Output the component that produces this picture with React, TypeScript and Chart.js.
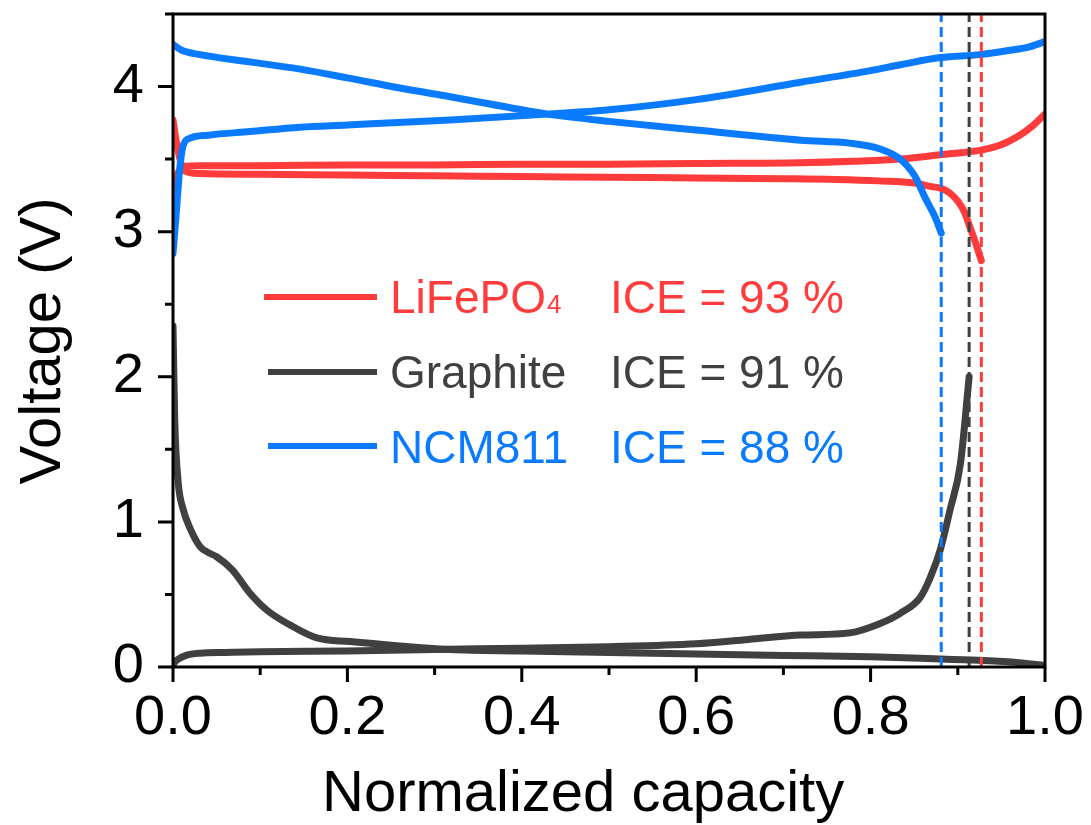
import React, { useEffect, useRef } from "react";
import { Chart, registerables } from "chart.js";

Chart.register(...registerables);

const FONT = "'Liberation Sans', Arial, Helvetica, sans-serif";
const RED = "#FF3B3B";
const GRAY = "#404040";
const BLUE = "#0A7BFF";

// LiFePO4 charge / discharge
const lfpChargeX = [0, 0.004, 0.008, 0.013, 0.03, 0.1, 0.2, 0.3, 0.4, 0.5, 0.6, 0.72, 0.78, 0.834, 0.88, 0.925, 0.948, 0.971, 0.986, 1.0];
const lfpChargeY = [3.3, 3.38, 3.43, 3.45, 3.455, 3.455, 3.46, 3.46, 3.465, 3.465, 3.47, 3.475, 3.485, 3.5, 3.53, 3.56, 3.595, 3.665, 3.73, 3.81];
const lfpDischargeX = [0, 0.003, 0.008, 0.013, 0.03, 0.1, 0.2, 0.3, 0.4, 0.5, 0.6, 0.7, 0.76, 0.81, 0.85, 0.87, 0.88, 0.89, 0.9, 0.908, 0.914, 0.92, 0.927];
const lfpDischargeY = [3.77, 3.65, 3.5, 3.42, 3.4, 3.395, 3.39, 3.385, 3.38, 3.375, 3.37, 3.365, 3.36, 3.35, 3.335, 3.31, 3.3, 3.27, 3.21, 3.13, 3.03, 2.93, 2.8];

// Graphite lithiation / delithiation
const grLithX = [0, 0.002, 0.006, 0.011, 0.02, 0.031, 0.04, 0.05, 0.068, 0.088, 0.108, 0.134, 0.165, 0.203, 0.26, 0.318, 0.4, 0.5, 0.6, 0.7, 0.8, 0.88, 0.93, 0.97, 1.0];
const grLithY = [2.35, 1.7, 1.27, 1.1, 0.95, 0.83, 0.79, 0.76, 0.67, 0.51, 0.39, 0.29, 0.2, 0.175, 0.145, 0.12, 0.11, 0.1, 0.09, 0.08, 0.07, 0.055, 0.045, 0.03, 0.01];
const grDelithX = [0, 0.005, 0.015, 0.031, 0.06, 0.1, 0.2, 0.3, 0.4, 0.5, 0.6, 0.66, 0.72, 0.776, 0.811, 0.834, 0.857, 0.868, 0.88, 0.891, 0.903, 0.913];
const grDelithY = [0.02, 0.05, 0.08, 0.095, 0.1, 0.105, 0.11, 0.12, 0.13, 0.14, 0.16, 0.19, 0.22, 0.235, 0.3, 0.37, 0.48, 0.61, 0.81, 1.08, 1.4, 2.0];

// NCM811 charge / discharge
const ncmChargeX = [0, 0.004, 0.008, 0.012, 0.02, 0.04, 0.088, 0.146, 0.2, 0.318, 0.43, 0.5, 0.6, 0.72, 0.8, 0.834, 0.88, 0.925, 0.96, 0.98, 1.0];
const ncmChargeY = [2.85, 3.15, 3.45, 3.6, 3.645, 3.665, 3.69, 3.72, 3.735, 3.77, 3.81, 3.84, 3.91, 4.03, 4.11, 4.15, 4.2, 4.22, 4.25, 4.27, 4.31];
const ncmDischargeX = [0, 0.01, 0.031, 0.088, 0.146, 0.2, 0.26, 0.318, 0.43, 0.5, 0.6, 0.72, 0.776, 0.811, 0.834, 0.851, 0.862, 0.874, 0.881];
const ncmDischargeY = [4.29, 4.25, 4.22, 4.17, 4.12, 4.06, 3.99, 3.93, 3.81, 3.76, 3.7, 3.63, 3.61, 3.57, 3.5, 3.38, 3.24, 3.1, 2.99];

// ICE cut-off markers (normalized capacity)
const iceNames = ["LiFePO4", "Graphite", "NCM811"];
const iceValues = [93, 91, 88];
const iceCutoffX = [0.927, 0.913, 0.881];
const iceColors = [RED, GRAY, BLUE];

// axis ticks
const xMajorTicks = [0, 0.2, 0.4, 0.6, 0.8, 1.0];
const xMinorTicks = [0.1, 0.3, 0.5, 0.7, 0.9];
const yMajorTicks = [0, 1, 2, 3, 4];
const yMinorTicks = [0.5, 1.5, 2.5, 3.5, 4.5];

const pts = (xs: number[], ys: number[]) => xs.map((x, i) => ({ x, y: ys[i] }));

const curve = (data: { x: number; y: number }[], color: string, order: number) => ({
  data,
  borderColor: color,
  backgroundColor: color,
  borderWidth: 7,
  pointRadius: 0,
  fill: false,
  cubicInterpolationMode: "monotone" as const,
  borderCapStyle: "round" as const,
  borderJoinStyle: "round" as const,
  order,
});

const noPad = (s: any) => {
  s.paddingTop = 0;
  s.paddingBottom = 0;
  s.paddingLeft = 0;
  s.paddingRight = 0;
};

const framePlugin = {
  id: "frameAndText",
  afterDraw(chart: any) {
    const { ctx, chartArea, scales } = chart;
    const { left, right, top, bottom } = chartArea;
    const xs = scales.x;
    const ys = scales.y;
    ctx.save();
    ctx.strokeStyle = "#000";
    ctx.lineWidth = 3;
    ctx.lineCap = "butt";
    ctx.strokeRect(left, top, right - left, bottom - top);
    ctx.beginPath();
    xMajorTicks.forEach((v) => {
      const p = xs.getPixelForValue(v);
      ctx.moveTo(p, bottom);
      ctx.lineTo(p, bottom + 15);
    });
    xMinorTicks.forEach((v) => {
      const p = xs.getPixelForValue(v);
      ctx.moveTo(p, bottom);
      ctx.lineTo(p, bottom + 8);
    });
    yMajorTicks.forEach((v) => {
      const p = ys.getPixelForValue(v);
      ctx.moveTo(left, p);
      ctx.lineTo(left - 15, p);
    });
    yMinorTicks.forEach((v) => {
      const p = ys.getPixelForValue(v);
      ctx.moveTo(left, p);
      ctx.lineTo(left - 8, p);
    });
    ctx.stroke();

    // axis titles
    ctx.fillStyle = "#000";
    ctx.font = `58px ${FONT}`;
    ctx.textAlign = "left";
    ctx.textBaseline = "alphabetic";
    ctx.fillText("Normalized capacity", 322, 811);
    ctx.save();
    ctx.translate(60, 341);
    ctx.rotate(-Math.PI / 2);
    ctx.textAlign = "center";
    ctx.fillText("Voltage (V)", 0, 0);
    ctx.restore();

    // legend
    const baselines = [313, 388, 463];
    const lineYs = [297, 372, 446];
    const lineX0 = [264, 268, 268];
    baselines.forEach((b, i) => {
      ctx.strokeStyle = iceColors[i];
      ctx.lineWidth = 6;
      ctx.beginPath();
      ctx.moveTo(lineX0[i], lineYs[i]);
      ctx.lineTo(377, lineYs[i]);
      ctx.stroke();
      ctx.fillStyle = iceColors[i];
      ctx.font = `46px ${FONT}`;
      ctx.textAlign = "left";
      if (iceNames[i] === "LiFePO4") {
        ctx.fillText("LiFePO", 390, b);
        const w = ctx.measureText("LiFePO").width;
        ctx.font = `26px ${FONT}`;
        ctx.fillText("4", 390 + w + 1, b);
        ctx.font = `46px ${FONT}`;
      } else {
        ctx.fillText(iceNames[i], 390, b);
      }
      ctx.fillText(`ICE = ${iceValues[i]} %`, 610, b);
    });
    ctx.restore();
  },
};

export default function App() {
  const ref = useRef<HTMLCanvasElement>(null);
  useEffect(() => {
    document.body.style.margin = "0";
    const dashed = iceCutoffX.map((x, i) => ({
      data: [
        { x, y: 0 },
        { x, y: 4.5 },
      ],
      borderColor: iceColors[i],
      borderWidth: 3,
      borderDash: [10, 5],
      pointRadius: 0,
      fill: false,
      order: 0,
    }));
    const chart = new Chart(ref.current as HTMLCanvasElement, {
      type: "line",
      data: {
        datasets: [
          ...dashed,
          curve(pts(ncmChargeX, ncmChargeY), BLUE, 1),
          curve(pts(ncmDischargeX, ncmDischargeY), BLUE, 1),
          curve(pts(lfpChargeX, lfpChargeY), RED, 2),
          curve(pts(lfpDischargeX, lfpDischargeY), RED, 2),
          curve(pts(grLithX, grLithY), GRAY, 3),
          curve(pts(grDelithX, grDelithY), GRAY, 3),
        ] as any,
      },
      options: {
        responsive: false,
        maintainAspectRatio: false,
        animation: false,
        devicePixelRatio: 1,
        layout: { padding: { top: 14, right: 46, left: 0, bottom: 0 } },
        plugins: { legend: { display: false }, tooltip: { enabled: false } },
        events: [],
        scales: {
          x: {
            type: "linear",
            min: 0,
            max: 1,
            afterFit: (s: any) => {
              s.height = 158;
              noPad(s);
            },
            grid: { display: false, drawTicks: false },
            border: { display: false },
            ticks: {
              stepSize: 0.2,
              autoSkip: false,
              maxRotation: 0,
              padding: 18,
              color: "#000",
              font: { family: FONT, size: 56 },
              callback: (v: any) => Number(v).toFixed(1),
            },
          },
          y: {
            type: "linear",
            min: 0,
            max: 4.5,
            afterFit: (s: any) => {
              s.width = 173;
              noPad(s);
            },
            afterBuildTicks: (s: any) => {
              s.ticks = s.ticks.filter((t: any) => t.value <= 4.001);
            },
            grid: { display: false, drawTicks: false },
            border: { display: false },
            ticks: {
              stepSize: 1,
              autoSkip: false,
              padding: 29,
              color: "#000",
              font: { family: FONT, size: 56 },
              callback: (v: any) => String(v),
            },
          },
        },
      },
      plugins: [framePlugin],
    });
    return () => chart.destroy();
  }, []);
  return (
    <div style={{ width: 1091, height: 825, position: "relative" }}>
      <canvas ref={ref} width={1091} height={825} style={{ width: 1091, height: 825, display: "block" }} />
    </div>
  );
}
